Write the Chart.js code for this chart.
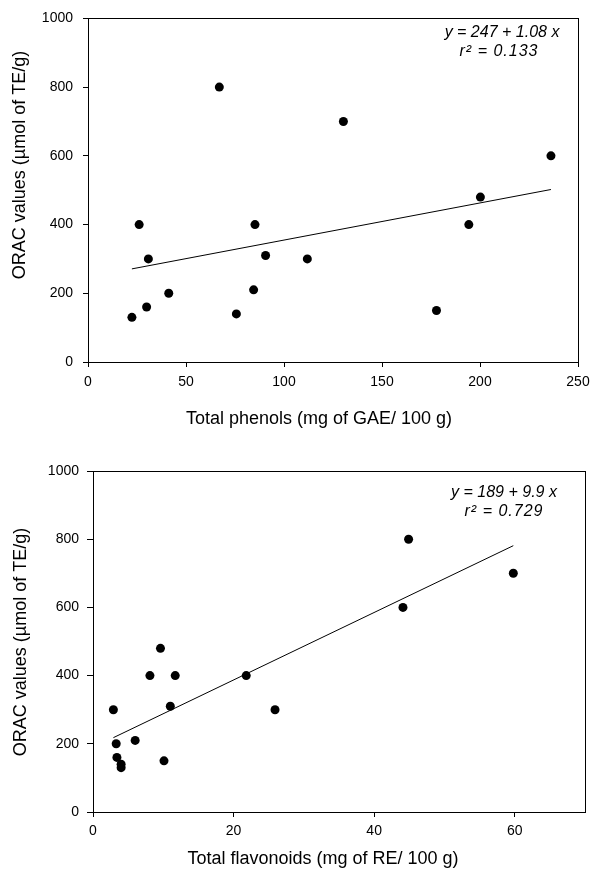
<!DOCTYPE html>
<html>
<head>
<meta charset="utf-8">
<script src="https://cdn.jsdelivr.net/npm/chart.js@4.4.1/dist/chart.umd.min.js"></script>
<style>
html, body { margin: 0; padding: 0; background: #fff; }
.box { position: absolute; left: 0; width: 590px; }
#top { top: 0; height: 435px; }
#bottom { top: 435px; height: 436px; }
</style>
</head>
<body>
<div class="box" id="top"><canvas id="phenols"></canvas></div>
<div class="box" id="bottom"><canvas id="flavonoids"></canvas></div>
<script>
// ORAC vs total phenols
let phenolsX = [22.4, 26.1, 29.9, 30.8, 41.2, 67, 75.7, 84.5, 85.2, 90.6, 111.9, 130.3, 177.8, 194.3, 200.2, 236.2];
let phenolsY = [130, 400, 160, 300, 200, 800, 140, 210, 400, 310, 300, 700, 150, 400, 480, 600];
let phenolsFitX = [22.4, 236.2];
let phenolsFitY = [271, 502];
let phenolsTicks = [0, 50, 100, 150, 200, 250];

// ORAC vs total flavonoids
let flavX = [2.9, 3.3, 3.4, 4.0, 4.0, 6.0, 8.1, 9.6, 10.1, 11.0, 11.7, 21.8, 25.9, 44.1, 44.9, 59.8];
let flavY = [300, 200, 160, 140, 130, 210, 400, 480, 150, 310, 400, 400, 300, 600, 800, 700];
let flavFitX = [2.9, 59.8];
let flavFitY = [218, 781];
let flavTicks = [0, 20, 40, 60];

let oracTicks = [0, 200, 400, 600, 800, 1000];
let yTitle = "ORAC values (\u00b5mol of TE/g)";

Chart.defaults.font.family = '"Liberation Sans", Arial, sans-serif';
Chart.defaults.color = '#000';

// box around plot + titles and equation text
const extras = {
    id: 'extras',
    afterDraw(chart, args, o) {
        let c = chart.ctx, a = chart.chartArea;
        c.save();
        c.strokeStyle = '#000';
        c.lineWidth = 1;
        c.strokeRect(Math.round(a.left) + 0.5, Math.round(a.top) + 0.5,
            Math.round(a.right - a.left), Math.round(a.bottom - a.top));
        c.fillStyle = '#000';
        c.textAlign = 'center';
        c.textBaseline = 'middle';
        c.font = 'italic 16px "Liberation Sans", Arial, sans-serif';
        c.fillText(o.eq[0], o.eqAt[0][0], o.eqAt[0][1]);
        c.letterSpacing = '1px';
        c.fillText(o.eq[1], o.eqAt[1][0], o.eqAt[1][1]);
        c.letterSpacing = '0px';
        c.font = '18px "Liberation Sans", Arial, sans-serif';
        c.fillText(o.xTitle, o.xTitleAt[0], o.xTitleAt[1]);
        c.translate(o.yTitleAt[0], o.yTitleAt[1]);
        c.rotate(-Math.PI / 2);
        c.fillText(yTitle, 0, 0);
        c.restore();
    }
};

function pts(xs, ys) {
    return xs.map((x, i) => ({ x: x, y: ys[i] }));
}

function makeChart(id, xs, ys, fx, fy, xTicks, s) {
    return new Chart(document.getElementById(id), {
        type: 'scatter',
        data: {
            datasets: [{
                data: pts(xs, ys),
                backgroundColor: '#000',
                borderWidth: 0,
                pointRadius: 4.5,
                pointHoverRadius: 4.5
            }, {
                type: 'line',
                data: pts(fx, fy),
                borderColor: '#000',
                borderWidth: 1,
                pointRadius: 0,
                fill: false
            }]
        },
        options: {
            responsive: true,
            maintainAspectRatio: false,
            animation: false,
            events: [],
            layout: { padding: s.pad },
            plugins: {
                legend: { display: false },
                tooltip: { enabled: false },
                extras: s.text
            },
            scales: {
                x: {
                    type: 'linear',
                    min: xTicks[0],
                    max: s.xMax,
                    afterBuildTicks: sc => { sc.ticks = xTicks.map(v => ({ value: v })); },
                    afterFit: sc => { sc.height = s.xh; sc.paddingLeft = 0; sc.paddingRight = 0; },
                    grid: { drawOnChartArea: false, color: '#000', tickLength: 5 },
                    border: { color: '#000' },
                    ticks: { font: { size: 14 }, padding: s.xPad, maxRotation: 0, callback: v => String(v) }
                },
                y: {
                    type: 'linear',
                    min: 0,
                    max: 1000,
                    afterBuildTicks: sc => { sc.ticks = oracTicks.map(v => ({ value: v })); },
                    afterFit: sc => { sc.width = s.yw; },
                    grid: { drawOnChartArea: false, color: '#000', tickLength: s.yTick },
                    border: { color: '#000' },
                    ticks: { font: { size: 14 }, padding: s.yPad, callback: v => String(v) }
                }
            }
        },
        plugins: [extras]
    });
}

makeChart('phenols', phenolsX, phenolsY, phenolsFitX, phenolsFitY, phenolsTicks, {
    xMax: 250,
    pad: { top: 18, right: 12, bottom: 0, left: 0 },
    xh: 73, yw: 88, xPad: 7, yPad: 10, yTick: 5,
    text: {
        eq: ['y = 247 + 1.08 x', 'r\u00b2 = 0.133'],
        eqAt: [[502, 33], [499, 52]],
        xTitle: 'Total phenols (mg of GAE/ 100 g)',
        xTitleAt: [319, 419],
        yTitleAt: [20, 165]
    }
});

makeChart('flavonoids', flavX, flavY, flavFitX, flavFitY, flavTicks, {
    xMax: 70,
    pad: { top: 36, right: 5, bottom: 0, left: 0 },
    xh: 59, yw: 93, xPad: 6, yPad: 8, yTick: 6,
    text: {
        eq: ['y = 189 + 9.9 x', 'r\u00b2 = 0.729'],
        eqAt: [[504, 58], [504, 77]],
        xTitle: 'Total flavonoids (mg of RE/ 100 g)',
        xTitleAt: [323, 424],
        yTitleAt: [21, 207]
    }
});
</script>
</body>
</html>
